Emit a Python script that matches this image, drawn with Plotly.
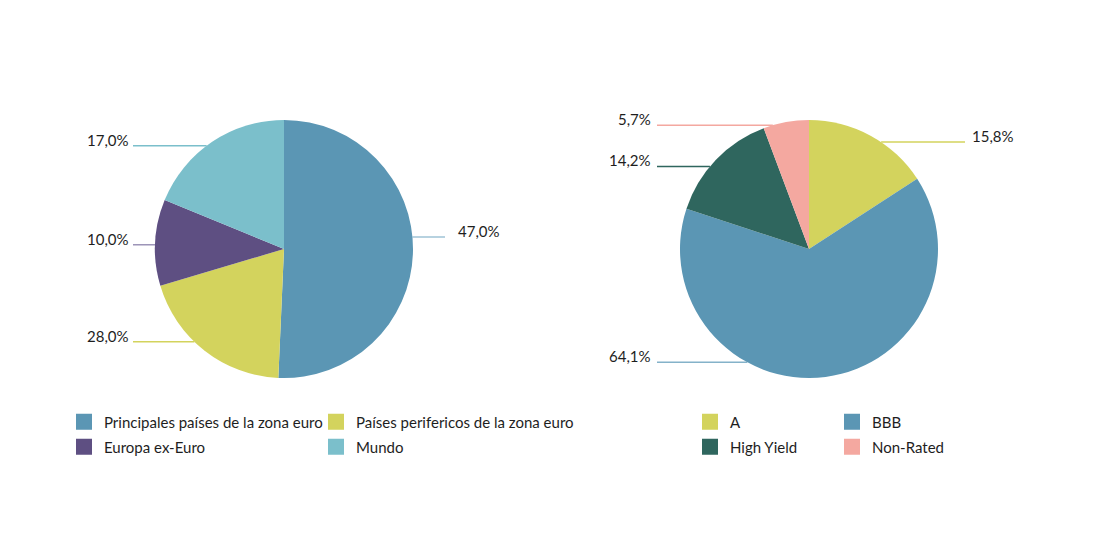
import math
import plotly.graph_objects as go

# ---------------- data ----------------
left_categories = [
    "Principales países de la zona euro",
    "Países perifericos de la zona euro",
    "Europa ex-Euro",
    "Mundo",
]
left_values = [50.7, 19.7, 10.8, 18.8]          # slice sizes as drawn
left_labels = ["47,0%", "28,0%", "10,0%", "17,0%"]  # printed labels

right_categories = ["A", "BBB", "High Yield", "Non-Rated"]
right_values = [15.8, 64.1, 14.2, 5.7]
right_labels = ["15,8%", "64,1%", "14,2%", "5,7%"]

# ---------------- style ----------------
PAGE_OFF = 8                 # default body margin of the page
W, H = 1100 - 2 * PAGE_OFF, 540 - 2 * PAGE_OFF
FONT = "Lato"
TEXT_COLOR = "#1e1e1e"
left_colors = ["#5b96b4", "#d3d35d", "#5e4f82", "#7bbfcb"]
right_colors = ["#d3d35d", "#5b96b4", "#2f665e", "#f4a8a0"]
left_line_colors = ["#9fc3d6", "#d3d35d", "#9d95b8", "#7bbfcb"]
right_line_colors = ["#d3d35d", "#84b2c9", "#2f665e", "#f4a8a0"]
R = 129
left_center = (284, 249)     # window pixel coordinates
right_center = (809, 249)
left_nudge = [-6.6, 6, -1, -3]     # label anchor angle adjustments (deg)
right_nudge = [5.5, 36, -4, -6]
left_leader = (-151, 161)           # leader line x ends relative to centre
right_leader = (-152, 156)
left_text_gap = (2, 11)             # gap between line end and label (left, right side)
right_text_gap = (4, 5)
legend_rows_y = [422, 447]


def px(x):
    return (x - PAGE_OFF) / W


def py(y):
    return 1 - (y - PAGE_OFF) / H


def domain(center):
    cx, cy = center
    return dict(x=[px(cx - R), px(cx + R)], y=[py(cy + R), py(cy - R)])


fig = go.Figure()

for cats, vals, cols, center in [
    (left_categories, left_values, left_colors, left_center),
    (right_categories, right_values, right_colors, right_center),
]:
    fig.add_trace(go.Pie(
        labels=cats, values=vals, sort=False, direction="clockwise", rotation=0,
        marker=dict(colors=cols, line=dict(width=0)),
        textinfo="none", hoverinfo="label+value", showlegend=False,
        domain=domain(center),
    ))

shapes = []
annotations = []


def add_labels(vals, texts, center, nudges, leader, gaps, line_cols):
    cx, cy = center
    total = sum(vals)
    cum = 0.0
    for v, t, n, lc in zip(vals, texts, nudges, line_cols):
        mid = (cum + v / 2) / total * 360
        cum += v
        a = math.radians(mid + n)
        ex = cx + R * math.sin(a)
        ey = cy - R * math.cos(a)
        if math.sin(a) >= 0:
            x_end = cx + leader[1]
            tx, anchor = x_end + gaps[1], "left"
        else:
            x_end = cx + leader[0]
            tx, anchor = x_end - gaps[0], "right"
        shapes.append(dict(type="line", xref="paper", yref="paper",
                           x0=px(ex), y0=py(ey), x1=px(x_end), y1=py(ey),
                           line=dict(color=lc, width=1.5), layer="below"))
        annotations.append(dict(xref="paper", yref="paper", x=px(tx), y=py(ey),
                                text=t, showarrow=False, xanchor=anchor,
                                yanchor="middle", yshift=6,
                                font=dict(family=FONT, size=15, color=TEXT_COLOR)))


add_labels(left_values, left_labels, left_center, left_nudge, left_leader,
           left_text_gap, left_line_colors)
add_labels(right_values, right_labels, right_center, right_nudge, right_leader,
           right_text_gap, right_line_colors)

# legend entries (one legend per row, two columns each)
legend_defs = {}
for group, cats, cols, x_sw, entryw in [
    (0, left_categories, left_colors, 84, 207),
    (1, right_categories, right_colors, 710, 97),
]:
    for i, (c, col) in enumerate(zip(cats, cols)):
        row = i // 2
        lid = ["legend", "legend2", "legend3", "legend4"][group * 2 + row]
        fig.add_trace(go.Scatter(
            x=[None], y=[None], mode="markers", name=c,
            marker=dict(symbol="square", size=16, color=col, line=dict(width=0)),
            legend=lid, showlegend=True, hoverinfo="skip",
            legendwidth=entryw if i % 2 == 0 else 280,
        ))
        legend_defs[lid] = dict(
            orientation="h", x=px(x_sw - 20), xanchor="left",
            y=py(legend_rows_y[row]), yanchor="middle",
            entrywidth=entryw, entrywidthmode="pixels",
            font=dict(family=FONT, size=15, color=TEXT_COLOR),
            bgcolor="rgba(0,0,0,0)", borderwidth=0, itemclick=False,
        )

fig.update_layout(
    width=W, height=H,
    margin=dict(l=0, r=0, t=0, b=0, autoexpand=False),
    paper_bgcolor="white", plot_bgcolor="white",
    xaxis=dict(visible=False), yaxis=dict(visible=False),
    shapes=shapes, annotations=annotations,
    font=dict(family=FONT, size=15, color=TEXT_COLOR),
    **legend_defs,
)

fig.write_html("out.html")
